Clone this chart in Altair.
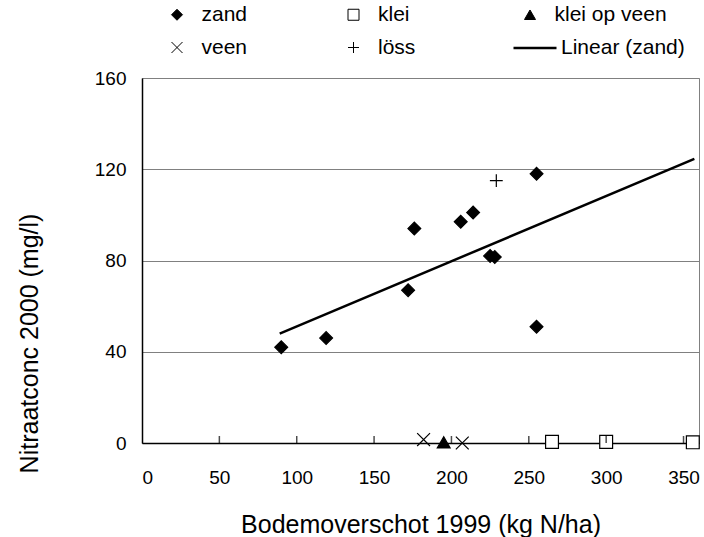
import altair as alt
import pandas as pd

FONT = "Liberation Sans"

soil_types = ["zand", "klei", "klei op veen", "veen", "löss"]
soil_shapes = ["diamond", "square", "triangle-up", "M-1,-1L1,1M-1,1L1,-1", "M-1,0L1,0M0,-1L0,1"]
soil_fills = ["black", "white", "black", "transparent", "transparent"]
soil_strokes = ["black", "black", "black", "black", "black"]

zand_x = [90, 119, 172, 176, 206, 214, 225, 228, 255, 255]
zand_y = [42, 46, 67, 94, 97, 101, 82, 81.5, 118, 51]
klei_x = [265, 300, 356]
klei_y = [0.5, 0.5, 0.3]
klei_op_veen_x = [195]
klei_op_veen_y = [0.3]
veen_x = [182, 207]
veen_y = [1.5, 0]
loss_x = [229]
loss_y = [115]

x_ticks = [0, 50, 100, 150, 200, 250, 300, 350]
y_ticks = [0, 40, 80, 120, 160]
trend_extent = [89, 357]

rows = []
for soil, xs, ys in [
    ("zand", zand_x, zand_y),
    ("klei", klei_x, klei_y),
    ("klei op veen", klei_op_veen_x, klei_op_veen_y),
    ("veen", veen_x, veen_y),
    ("löss", loss_x, loss_y),
]:
    rows += [{"soil": soil, "x": a, "y": b} for a, b in zip(xs, ys)]
df = pd.DataFrame(rows)

x_scale = alt.Scale(domain=[0, 360], nice=False, zero=False)
y_scale = alt.Scale(domain=[0, 160], nice=False)

point_legend = alt.Legend(
    title=None, orient="none", legendX=24.5, legendY=-74, columns=3,
    direction="horizontal", columnPadding=28.5, rowPadding=11, symbolSize=121,
    symbolStrokeColor="black", symbolStrokeWidth=1, labelOffset=14, gridAlign="all",
)

trend = (
    alt.Chart(df)
    .transform_filter(alt.datum.soil == "zand")
    .transform_regression("x", "y", extent=trend_extent)
    .transform_calculate(series="'Linear (zand)'")
    .mark_line(strokeWidth=2.5)
    .encode(
        x=alt.X("x:Q", scale=x_scale),
        y=alt.Y("y:Q", scale=y_scale),
        color=alt.Color(
            "series:N", scale=alt.Scale(range=["black"]),
            legend=alt.Legend(title=None, orient="none", legendX=370, legendY=-53,
                              symbolType="stroke", symbolSize=1850, symbolStrokeWidth=2.5,
                              labelOffset=3),
        ),
    )
)

points = (
    alt.Chart(df)
    .mark_point(strokeWidth=1.2, opacity=1, size=165)
    .encode(
        x=alt.X("x:Q", scale=x_scale,
                axis=alt.Axis(values=x_ticks, title="Bodemoverschot 1999 (kg N/ha)",
                              ticks=False, grid=False, labelPadding=25,
                              titleX=278.5, titleY=81, titleBaseline="middle")),
        y=alt.Y("y:Q", scale=y_scale,
                axis=alt.Axis(values=y_ticks, title="Nitraatconc 2000 (mg/l)",
                              ticks=False, grid=True, labelPadding=16,
                              titleX=-113, titleY=265, titleAngle=270,
                              titleAlign="center", titleBaseline="middle")),
        shape=alt.Shape("soil:N", scale=alt.Scale(domain=soil_types, range=soil_shapes),
                        legend=point_legend),
        fill=alt.Fill("soil:N", scale=alt.Scale(domain=soil_types, range=soil_fills),
                      legend=point_legend),
        stroke=alt.Stroke("soil:N", scale=alt.Scale(domain=soil_types, range=soil_strokes),
                          legend=point_legend),
    )
)

tick_df = pd.DataFrame({"x": x_ticks[1:]})
ticks = (
    alt.Chart(tick_df)
    .mark_tick(orient="vertical", size=7, thickness=1.5, color="black", yOffset=-3.5)
    .encode(x=alt.X("x:Q", scale=x_scale), y=alt.datum(0))
)

chart = (
    alt.layer(trend, points, ticks)
    .properties(
        width=557, height=365,
        autosize=alt.AutoSizeParams(type="none"),
        padding={"left": 142, "top": 78, "right": 5, "bottom": 94},
    )
    .configure_view(stroke="#808080", strokeWidth=1)
    .configure_axis(
        domainColor="black", domainWidth=1.5,
        labelFont=FONT, labelFontSize=19, labelColor="black",
        titleFont=FONT, titleFontSize=25, titleColor="black", titleFontWeight="normal",
        gridColor="#808080", gridWidth=1,
    )
    .configure_legend(labelFont=FONT, labelFontSize=21, labelColor="black", padding=0)
)

chart.save("out.html", embed_options={"renderer": "svg", "actions": False})
